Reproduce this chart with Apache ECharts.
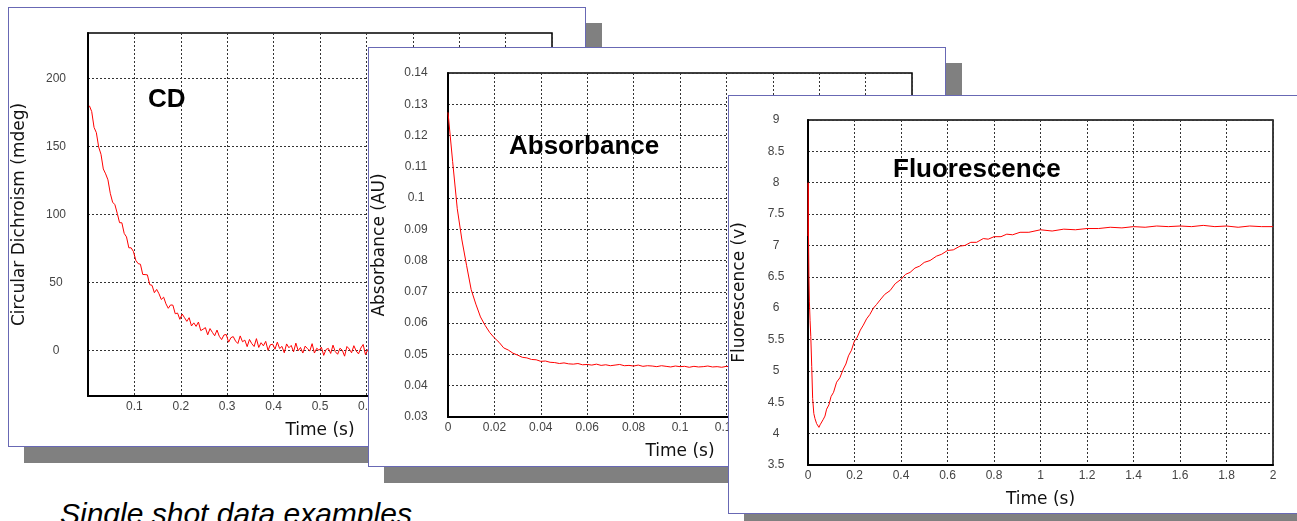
<!DOCTYPE html>
<html>
<head>
<meta charset="utf-8">
<title>Single shot data examples</title>
<script src="https://cdn.jsdelivr.net/npm/echarts@6/dist/echarts.min.js"></script>
<style>
  html, body { margin: 0; padding: 0; width: 1297px; height: 521px; overflow: hidden; background: #fff; }
  .card { position: absolute; box-sizing: border-box; border: 1px solid #6868b4; background: #fff; box-shadow: 16px 16px 0 0 #808080; }
  .card > div { position: absolute; left: 0; top: 0; right: 0; bottom: 0; }
  #caption { position: absolute; left: 60px; top: 499px; font: italic 30px/30px "Liberation Sans", Arial, sans-serif; color: #000; white-space: nowrap; }
</style>
</head>
<body>
<div class="card" style="left:8px;top:7px;width:578px;height:440px"><div id="chartCD"></div></div>
<div id="caption">Single shot data examples</div>
<div class="card" style="left:368px;top:47px;width:578px;height:420px"><div id="chartAbs"></div></div>
<div class="card" style="left:728px;top:95px;width:620px;height:419px"><div id="chartFl"></div></div>
<script>
// ---- Circular dichroism trace (mdeg), sampled every 5 ms from 3 ms ----
const cdStart = 0.003;
const cdStep = 0.005;
const cdValue = [
  180.0, 175.7, 164.1, 160.2, 149.6, 144.3, 133.5, 129.9, 125.5, 115.6,
  109.1, 107.2, 100.9, 94.0, 93.9, 86.1, 83.5, 75.5, 75.5, 72.7,
  66.3, 63.9, 63.4, 55.9, 55.8, 55.6, 48.4, 47.9, 42.5, 44.9,
  41.7, 37.5, 39.2, 34.3, 31.0, 33.5, 33.3, 27.0, 27.5, 22.9,
  26.8, 24.1, 21.4, 24.1, 18.0, 20.3, 17.7, 20.9, 14.6, 15.6,
  16.8, 11.5, 16.1, 13.3, 10.8, 15.0, 10.4, 8.0, 11.4, 11.7,
  6.1, 9.4, 10.2, 6.9, 5.1, 10.7, 6.4, 7.6, 2.8, 8.1,
  5.0, 2.9, 8.7, 2.2, 5.7, 3.4, 6.7, 0.1, 4.2, 4.6,
  0.9, 6.1, 1.4, 3.0, -1.7, 4.8, 2.0, 3.7, -1.0, 5.4,
  -0.2, 2.2, -1.9, 3.2, 1.3, -0.4, 5.0, -1.9, 1.6, 0.1,
  2.4, -3.6, 0.7, 1.5, -2.2, 3.9, -0.9, -2.8, 1.6, 0.2,
  -4.2, 2.9, 1.1, -1.7, 3.5, -0.4, -2.5, 1.8, 4.4, -3.1,
  0.6, -1.4, 2.7, -0.8, 3.0, -2.9, 0.3, 1.6, -3.8, 2.1,
  0.9, -1.1, 3.7, -2.4, 0.2, -0.6, 2.8, -3.4, 1.4, 0.5,
  -2.0, 3.3, -1.5, 0.8, -3.0, 2.5, 1.0, -2.2, 4.0, -0.7,
  -1.8, 2.3, 0.4, -3.5, 1.9, -0.2, 3.1, -2.6, 1.2, -1.0,
  2.6, -3.9, 0.9, 1.7, -2.3, 3.6, -0.5, 0.1, -2.9, 2.0,
  1.3, -1.6, 3.4, -2.1, 0.6, -0.9, 2.2, -3.2, 1.5, 0.3,
  -2.4, 3.8, -1.2, 0.7, -3.3, 2.4, -0.3, 1.0, -2.0, 2.9,
  -1.7, 0.2, -3.6, 2.7, 0.8, -1.3, 3.2, -2.8, 1.1, -0.4
];
const cdYTicks = [0, 50, 100, 150, 200];

// ---- Absorbance trace (AU), sampled every 2 ms from 0 ----
const absStart = 0;
const absStep = 0.002;
const absValue = [
  0.1274, 0.1117, 0.0966, 0.0866, 0.0785, 0.0707, 0.0661, 0.0620, 0.0593, 0.0570,
  0.0553, 0.0539, 0.0521, 0.0514, 0.0504, 0.0498, 0.0491, 0.0489, 0.0484, 0.0483,
  0.0478, 0.0479, 0.0475, 0.0474, 0.0471, 0.0473, 0.0470, 0.0469, 0.0471, 0.0467,
  0.0468, 0.0466, 0.0469, 0.0465, 0.0467, 0.0464, 0.0466, 0.0468, 0.0464, 0.0465,
  0.0463, 0.0466, 0.0462, 0.0464, 0.0463, 0.0461, 0.0464, 0.0462, 0.0460, 0.0463,
  0.0461, 0.0462, 0.0459, 0.0462, 0.0460, 0.0461, 0.0463, 0.0460, 0.0461, 0.0459,
  0.0462, 0.0460, 0.0458, 0.0461, 0.0459, 0.0460, 0.0462, 0.0458, 0.0460, 0.0459,
  0.0461, 0.0458, 0.0460, 0.0459, 0.0457, 0.0460, 0.0459, 0.0461, 0.0458, 0.0459,
  0.0460, 0.0457, 0.0459, 0.0458, 0.0460, 0.0458, 0.0457, 0.0459, 0.0460, 0.0458,
  0.0457, 0.0459, 0.0458, 0.0456, 0.0459, 0.0458, 0.0457, 0.0459, 0.0457, 0.0458,
  0.0457
];

// ---- Fluorescence trace (V) ----
const flTime = [
  0, 0.001, 0.002, 0.004, 0.006, 0.009, 0.012, 0.016, 0.020, 0.025,
  0.030, 0.037, 0.042, 0.047, 0.052, 0.059, 0.066, 0.073, 0.080, 0.090,
  0.099, 0.110, 0.123, 0.137, 0.152, 0.163, 0.174, 0.187, 0.199, 0.212,
  0.225, 0.238, 0.252, 0.266, 0.281, 0.295, 0.310, 0.330, 0.353, 0.375,
  0.400, 0.420, 0.439, 0.460, 0.480, 0.500, 0.525, 0.553, 0.575, 0.600,
  0.625, 0.654, 0.675, 0.700, 0.725, 0.754, 0.775, 0.800, 0.830, 0.855,
  0.880, 0.912, 0.950, 1.000, 1.050, 1.100, 1.150, 1.200, 1.250, 1.300,
  1.350, 1.400, 1.450, 1.500, 1.550, 1.600, 1.650, 1.700, 1.750, 1.800,
  1.850, 1.900, 1.950, 2.000
];
const flValue = [
  7.15, 8.00, 7.20, 6.50, 6.10, 5.80, 5.55, 5.07, 4.56, 4.32,
  4.24, 4.16, 4.13, 4.10, 4.14, 4.15, 4.23, 4.28, 4.39, 4.46,
  4.59, 4.66, 4.82, 4.89, 5.03, 5.11, 5.24, 5.33, 5.47, 5.54,
  5.65, 5.73, 5.83, 5.90, 6.00, 6.06, 6.13, 6.22, 6.28, 6.39,
  6.46, 6.54, 6.57, 6.64, 6.67, 6.73, 6.76, 6.83, 6.86, 6.92,
  6.93, 6.99, 7.00, 7.05, 7.05, 7.11, 7.10, 7.14, 7.14, 7.18,
  7.17, 7.21, 7.21, 7.25, 7.23, 7.26, 7.25, 7.27, 7.27, 7.29,
  7.28, 7.30, 7.29, 7.31, 7.30, 7.31, 7.30, 7.32, 7.30, 7.31,
  7.29, 7.31, 7.30, 7.30
];

// ---- shared styling ----
const TICK_FONT = '"Liberation Sans", Arial, sans-serif';
const NAME_FONT = '"DejaVu Sans", Verdana, sans-serif';
const TITLE_FONT = 'bold 26px "Liberation Sans", Arial, sans-serif';

function uniformPoints(start, step, values) {
  return values.map((v, i) => [+(start + i * step).toFixed(6), v]);
}
function pairedPoints(times, values) {
  return times.map((t, i) => [t, values[i]]);
}

const gridLine = { show: true, lineStyle: { color: '#333', width: 1, type: [2, 2] } };

function buildOption(p) {
  const yAxis = {
    type: 'value',
    min: p.yMin, max: p.yMax,
    axisLine: { show: true, onZero: false, lineStyle: { color: '#000', width: 2 } },
    axisTick: { show: false },
    axisLabel: { margin: 32, align: 'center', color: '#444', fontFamily: TICK_FONT, fontSize: 12 },
    splitLine: gridLine,
    name: p.yName, nameLocation: 'middle', nameGap: 60,
    nameTextStyle: { fontFamily: NAME_FONT, fontSize: 17, color: '#111' }
  };
  if (p.yTicks) {
    yAxis.axisLabel.customValues = p.yTicks;
    yAxis.axisTick.customValues = p.yTicks;
  } else {
    yAxis.interval = p.yInterval;
  }
  return {
    animation: false,
    grid: {
      left: p.grid[0], top: p.grid[1], width: p.grid[2], height: p.grid[3],
      outerBoundsMode: 'none', containLabel: false,
      show: true, borderColor: '#000', borderWidth: 1.5, backgroundColor: 'transparent'
    },
    xAxis: {
      type: 'value', min: p.xMin, max: p.xMax, interval: p.xInterval,
      axisLine: { show: true, onZero: false, lineStyle: { color: '#000', width: 2 } },
      axisTick: { show: false },
      axisLabel: {
        margin: 5, color: '#444', fontFamily: TICK_FONT, fontSize: 12,
        formatter: p.hideZero ? (v => (v === 0 ? '' : String(v))) : null
      },
      splitLine: gridLine,
      name: 'Time (s)', nameLocation: 'middle', nameGap: 26,
      nameTextStyle: { fontFamily: NAME_FONT, fontSize: 17, color: '#111' }
    },
    yAxis: yAxis,
    series: [{
      type: 'line', data: p.data, showSymbol: false, silent: true,
      lineStyle: { color: '#ff0000', width: 1 }
    }],
    graphic: [{
      type: 'text', x: p.title[1], y: p.title[2], z: 10,
      style: { text: p.title[0], font: TITLE_FONT, fill: '#000', verticalAlign: 'middle' }
    }]
  };
}

const charts = [
  ['chartCD', {
    grid: [79, 25, 464, 363],
    xMin: 0, xMax: 1, xInterval: 0.1, hideZero: true,
    yMin: -33.5, yMax: 233.5, yTicks: cdYTicks,
    yName: 'Circular Dichroism (mdeg)',
    title: ['CD', 139, 91.5],
    data: uniformPoints(cdStart, cdStep, cdValue)
  }],
  ['chartAbs', {
    grid: [79, 25, 464, 344],
    xMin: 0, xMax: 0.2, xInterval: 0.02,
    yMin: 0.03, yMax: 0.14, yInterval: 0.01,
    yName: 'Absorbance (AU)',
    title: ['Absorbance', 140, 99],
    data: uniformPoints(absStart, absStep, absValue)
  }],
  ['chartFl', {
    grid: [79, 24, 465, 345],
    xMin: 0, xMax: 2, xInterval: 0.2,
    yMin: 3.5, yMax: 9, yInterval: 0.5,
    yName: 'Fluorescence (v)',
    title: ['Fluorescence', 164, 74],
    data: pairedPoints(flTime, flValue)
  }]
];

charts.forEach(([id, p]) => {
  const chart = echarts.init(document.getElementById(id), null, { renderer: 'canvas' });
  chart.setOption(buildOption(p));
});
</script>
</body>
</html>
